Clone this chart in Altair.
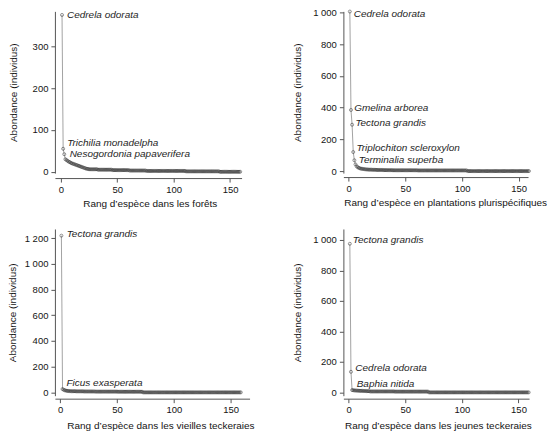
import altair as alt
import pandas as pd

FONT = "Liberation Sans"

# rangs des espèces (1 à 159)
rangs = list(range(1, 160))

abond_forets = [
    375, 55, 42, 30, 28, 26, 24, 23, 21, 20, 19, 18, 17, 16, 15, 14, 13, 12, 11, 10,
    9, 8, 7, 7, 6, 6, 6, 6, 6, 6, 6, 6, 5, 5, 5, 5, 5, 5, 5, 5,
    5, 5, 5, 5, 5, 4, 4, 4, 4, 4, 4, 4, 4, 4, 4, 4, 4, 4, 4, 4,
    3, 3, 3, 3, 3, 3, 3, 3, 3, 3, 3, 3, 3, 3, 3, 2, 2, 2, 2, 2,
    2, 2, 2, 2, 2, 2, 2, 2, 2, 2, 2, 2, 2, 2, 2, 2, 2, 2, 2, 2,
    2, 2, 2, 2, 2, 2, 2, 2, 2, 2, 1, 1, 1, 1, 1, 1, 1, 1, 1, 1,
    1, 1, 1, 1, 1, 1, 1, 1, 1, 1, 1, 1, 1, 1, 1, 1, 1, 1, 1, 1,
    0, 0, 0, 0, 0, 0, 0, 0, 0, 0, 0, 0, 0, 0, 0, 0, 0, 0, 0,
]
abond_plantations = [
    1005, 385, 292, 120, 68, 42, 30, 24, 20, 17, 15, 14, 13, 12, 11, 10, 10, 9, 9, 9,
    8, 8, 8, 8, 7, 7, 7, 7, 7, 7, 6, 6, 6, 6, 6, 6, 6, 6, 5, 5,
    5, 5, 5, 5, 5, 5, 5, 5, 5, 5, 5, 5, 5, 5, 5, 5, 5, 5, 5, 5,
    4, 4, 4, 4, 4, 4, 4, 4, 4, 4, 4, 4, 4, 4, 4, 4, 4, 4, 4, 4,
    4, 4, 4, 4, 4, 4, 4, 4, 4, 4, 4, 4, 4, 4, 4, 4, 4, 4, 4, 4,
    4, 4, 4, 4, 0, 0, 0, 0, 0, 0, 0, 0, 0, 0, 0, 0, 0, 0, 0, 0,
    0, 0, 0, 0, 0, 0, 0, 0, 0, 0, 0, 0, 0, 0, 0, 0, 0, 0, 0, 0,
    0, 0, 0, 0, 0, 0, 0, 0, 0, 0, 0, 0, 0, 0, 0, 0, 0, 0, 0,
]
abond_vieilles = [
    1220, 26, 20, 16, 14, 12, 11, 10, 10, 9, 9, 9, 9, 8, 8, 8, 8, 8, 8, 8,
    7, 7, 7, 7, 7, 7, 7, 7, 7, 7, 6, 6, 6, 6, 6, 6, 6, 6, 6, 6,
    6, 6, 6, 6, 6, 6, 6, 6, 6, 6, 5, 5, 5, 5, 5, 5, 5, 5, 5, 5,
    5, 5, 5, 5, 5, 5, 5, 5, 5, 5, 5, 5, 0, 0, 0, 0, 0, 0, 0, 0,
    0, 0, 0, 0, 0, 0, 0, 0, 0, 0, 0, 0, 0, 0, 0, 0, 0, 0, 0, 0,
    0, 0, 0, 0, 0, 0, 0, 0, 0, 0, 0, 0, 0, 0, 0, 0, 0, 0, 0, 0,
    0, 0, 0, 0, 0, 0, 0, 0, 0, 0, 0, 0, 0, 0, 0, 0, 0, 0, 0, 0,
    0, 0, 0, 0, 0, 0, 0, 0, 0, 0, 0, 0, 0, 0, 0, 0, 0, 0, 0,
]
abond_jeunes = [
    975, 135, 15, 14, 13, 12, 12, 11, 11, 10, 10, 10, 9, 9, 9, 8, 8, 8, 6, 6,
    6, 6, 6, 6, 6, 6, 6, 6, 6, 6, 6, 6, 6, 6, 6, 6, 6, 6, 6, 6,
    5, 5, 5, 5, 5, 5, 5, 5, 5, 5, 5, 5, 5, 5, 5, 5, 5, 5, 5, 5,
    5, 5, 5, 5, 5, 5, 5, 5, 5, 5, 0, 0, 0, 0, 0, 0, 0, 0, 0, 0,
    0, 0, 0, 0, 0, 0, 0, 0, 0, 0, 0, 0, 0, 0, 0, 0, 0, 0, 0, 0,
    0, 0, 0, 0, 0, 0, 0, 0, 0, 0, 0, 0, 0, 0, 0, 0, 0, 0, 0, 0,
    0, 0, 0, 0, 0, 0, 0, 0, 0, 0, 0, 0, 0, 0, 0, 0, 0, 0, 0, 0,
    0, 0, 0, 0, 0, 0, 0, 0, 0, 0, 0, 0, 0, 0, 0, 0, 0, 0, 0,
]

noms_forets = ["Cedrela odorata", "Trichilia monadelpha", "Nesogordonia papaverifera"]
rangs_noms_forets = [1, 2, 3]
noms_plantations = ["Cedrela odorata", "Gmelina arborea", "Tectona grandis",
                    "Triplochiton scleroxylon", "Terminalia superba"]
rangs_noms_plantations = [1, 2, 3, 4, 5]
noms_vieilles = ["Tectona grandis", "Ficus exasperata"]
rangs_noms_vieilles = [1, 2]
noms_jeunes = ["Tectona grandis", "Cedrela odorata", "Baphia nitida"]
rangs_noms_jeunes = [1, 2, 3]

titre_y = "Abondance (individus)"
titre_x_forets = "Rang d’espèce dans les forêts"
titre_x_plantations = "Rang d’espèce en plantations plurispécifiques"
titre_x_vieilles = "Rang d’espèce dans les vieilles teckeraies"
titre_x_jeunes = "Rang d’espèce dans les jeunes teckeraies"

xticks = [0, 50, 100, 150]
yticks_forets = [0, 100, 200, 300]
yticks_plantations = [0, 200, 400, 600, 800, 1000]
yticks_vieilles = [0, 200, 400, 600, 800, 1000, 1200]
yticks_jeunes = [0, 200, 400, 600, 800, 1000]

LABEL_EXPR = "replace(format(datum.value, ','), ',', ' ')"


def panel(values, noms, rangs_noms, offsets, xtitle, yticks, xdom, ydom,
          width, height, xoff, ytitle_x, xtitle_x, tpad):
    df = pd.DataFrame({"rang": rangs, "abondance": values})
    xs = alt.Scale(domain=xdom, nice=False, zero=False)
    ys = alt.Scale(domain=ydom, nice=False, zero=False)
    x = alt.X("rang:Q", scale=xs,
              axis=alt.Axis(values=xticks, title=xtitle, offset=xoff, grid=False,
                            titleX=xtitle_x, titlePadding=tpad, labelPadding=2))
    y = alt.Y("abondance:Q", scale=ys,
              axis=alt.Axis(values=yticks, title=titre_y, grid=False, titleX=ytitle_x,
                            labelExpr=LABEL_EXPR, labelPadding=3))
    base = alt.Chart(df).encode(x=x, y=y)
    line = base.mark_line(color="#8c8c8c", strokeWidth=0.8)
    pts = base.mark_point(shape="circle", size=9, filled=False, color="#262626",
                          strokeWidth=0.7)
    layers = [line, pts]
    for nom, r, (dx, dy) in zip(noms, rangs_noms, offsets):
        ldf = pd.DataFrame({"rang": [r], "abondance": [values[r - 1]], "nom": [nom]})
        t = alt.Chart(ldf).mark_text(
            align="left", baseline="middle", dx=dx, dy=dy, font=FONT,
            fontStyle="italic", fontSize=10, color="#1e1e1e"
        ).encode(x=x, y=y, text="nom:N")
        layers.append(t)
    return alt.layer(*layers).properties(width=width, height=height)


p1 = panel(abond_forets, noms_forets, rangs_noms_forets,
           [(5, 0), (4, -5.5), (5.4, 0)],
           titre_x_forets, yticks_forets, [-5.3, 160.2], [-3.1, 383.5],
           187, 162, 5, -36, 95, 5)
p2 = panel(abond_plantations, noms_plantations, rangs_noms_plantations,
           [(4, 2.5), (3.2, -1.5), (3.3, -2), (3.2, -4), (4.4, 0)],
           titre_x_plantations, yticks_plantations, [-4.7, 158.2], [-12.6, 1006],
           185, 162, 4, -40.5, 102, 5)
p3 = panel(abond_vieilles, noms_vieilles, rangs_noms_vieilles,
           [(5.3, -1.4), (4, -6)],
           titre_x_vieilles, yticks_vieilles, [-4.7, 166.7], [-25.6, 1272],
           195, 167, 3, -37, 105.7, 6)
p4 = panel(abond_jeunes, noms_jeunes, rangs_noms_jeunes,
           [(3, -3.5), (4.4, -3.4), (4.6, -6)],
           titre_x_jeunes, yticks_jeunes, [-4.7, 159.3], [-21.6, 1072],
           186, 167, 3, -41, 94.7, 6)

chart = alt.concat(
    p1, p2, p3, p4, columns=2, spacing={"row": 20, "column": 38}, align="each"
).properties(
    padding={"left": 0, "top": -2, "right": 0, "bottom": 0}
).configure_view(
    strokeWidth=0
).configure_axis(
    domainColor="#555555", tickColor="#555555", tickSize=4, domainWidth=1,
    tickWidth=1, labelFont=FONT, titleFont=FONT, labelFontSize=9.5,
    titleFontSize=10, titleFontWeight="normal", labelColor="#141414",
    titleColor="#141414"
)

chart.save("out.html", embed_options={"renderer": "svg", "actions": False})
